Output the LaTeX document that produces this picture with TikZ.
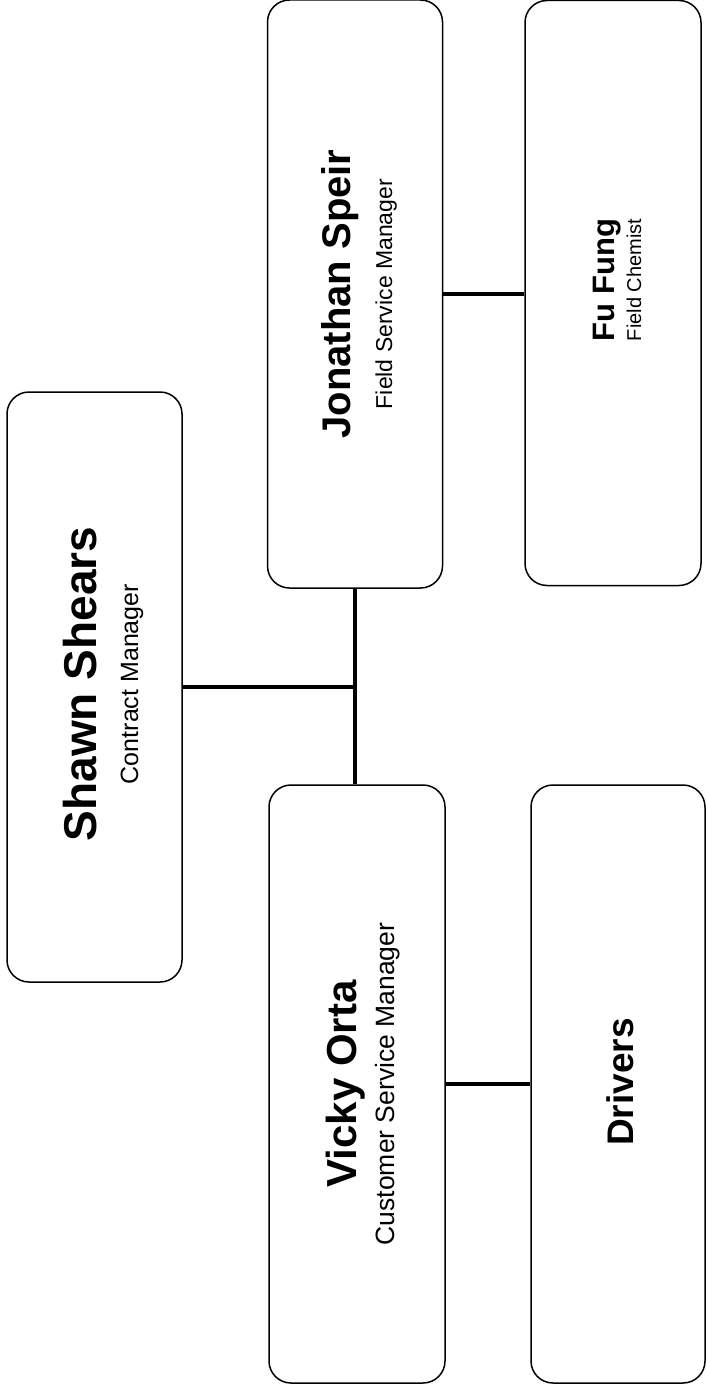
\documentclass[tikz,border=0pt]{standalone}
\usepackage{fontspec}
\setmainfont{Liberation Sans}
\begin{document}
\begin{tikzpicture}[x=1pt,y=-1pt,
  box/.style={draw=black, line width=1.5pt, rounded corners=22pt, rotate=90,
    inner sep=0pt, fill=white},
  nm/.style={rotate=90, anchor=base, inner sep=0pt, font=\fontsize{#1}{#1}\selectfont\bfseries},
  sb/.style={rotate=90, anchor=base, inner sep=0pt, font=\fontsize{#1}{#1}\selectfont},
  link/.style={draw=black, line width=3.5pt}]
\useasboundingbox[fill=white] (0,0) rectangle (706,1391);
% boxes
\node[box, minimum width=590pt, minimum height=175pt] (shawn) at (94.5,687) {};
\node[box, minimum width=588pt, minimum height=175pt] (jon) at (355,294) {};
\node[box, minimum width=585pt, minimum height=176pt] (fu) at (613,293) {};
\node[box, minimum width=598pt, minimum height=176pt] (vicky) at (357,1084) {};
\node[box, minimum width=598pt, minimum height=174pt] (drivers) at (618,1084) {};
% texts
\node[nm=46] (shawnname) at (96,684) {Shawn Shears};
\node[sb=25] (shawnrole) at (138,684) {Contract Manager};
\node[nm=40] (jonname) at (350,294) {Jonathan Speir};
\node[sb=23] (jonrole) at (392,294) {Field Service Manager};
\node[nm=31] (funame) at (614,280) {Fu Fung};
\node[sb=20] (furole) at (641,280) {Field Chemist};
\node[nm=42] (vickyname) at (356,1084) {Vicky Orta};
\node[sb=26.5] (vickyrole) at (394,1084) {Customer Service Manager};
\node[nm=37] (driversname) at (633,1082) {Drivers};
% connectors
\coordinate (junction) at (jon.west |- shawn.south);
\draw[link] (jon.west) -- (jon.west |- vicky.east);
\draw[link] (shawn.south) -- (junction);
\draw[link] (jon.south) -- (jon.south -| fu.north);
\draw[link] (vicky.south) -- (vicky.south -| drivers.north);
\end{tikzpicture}
\end{document}
